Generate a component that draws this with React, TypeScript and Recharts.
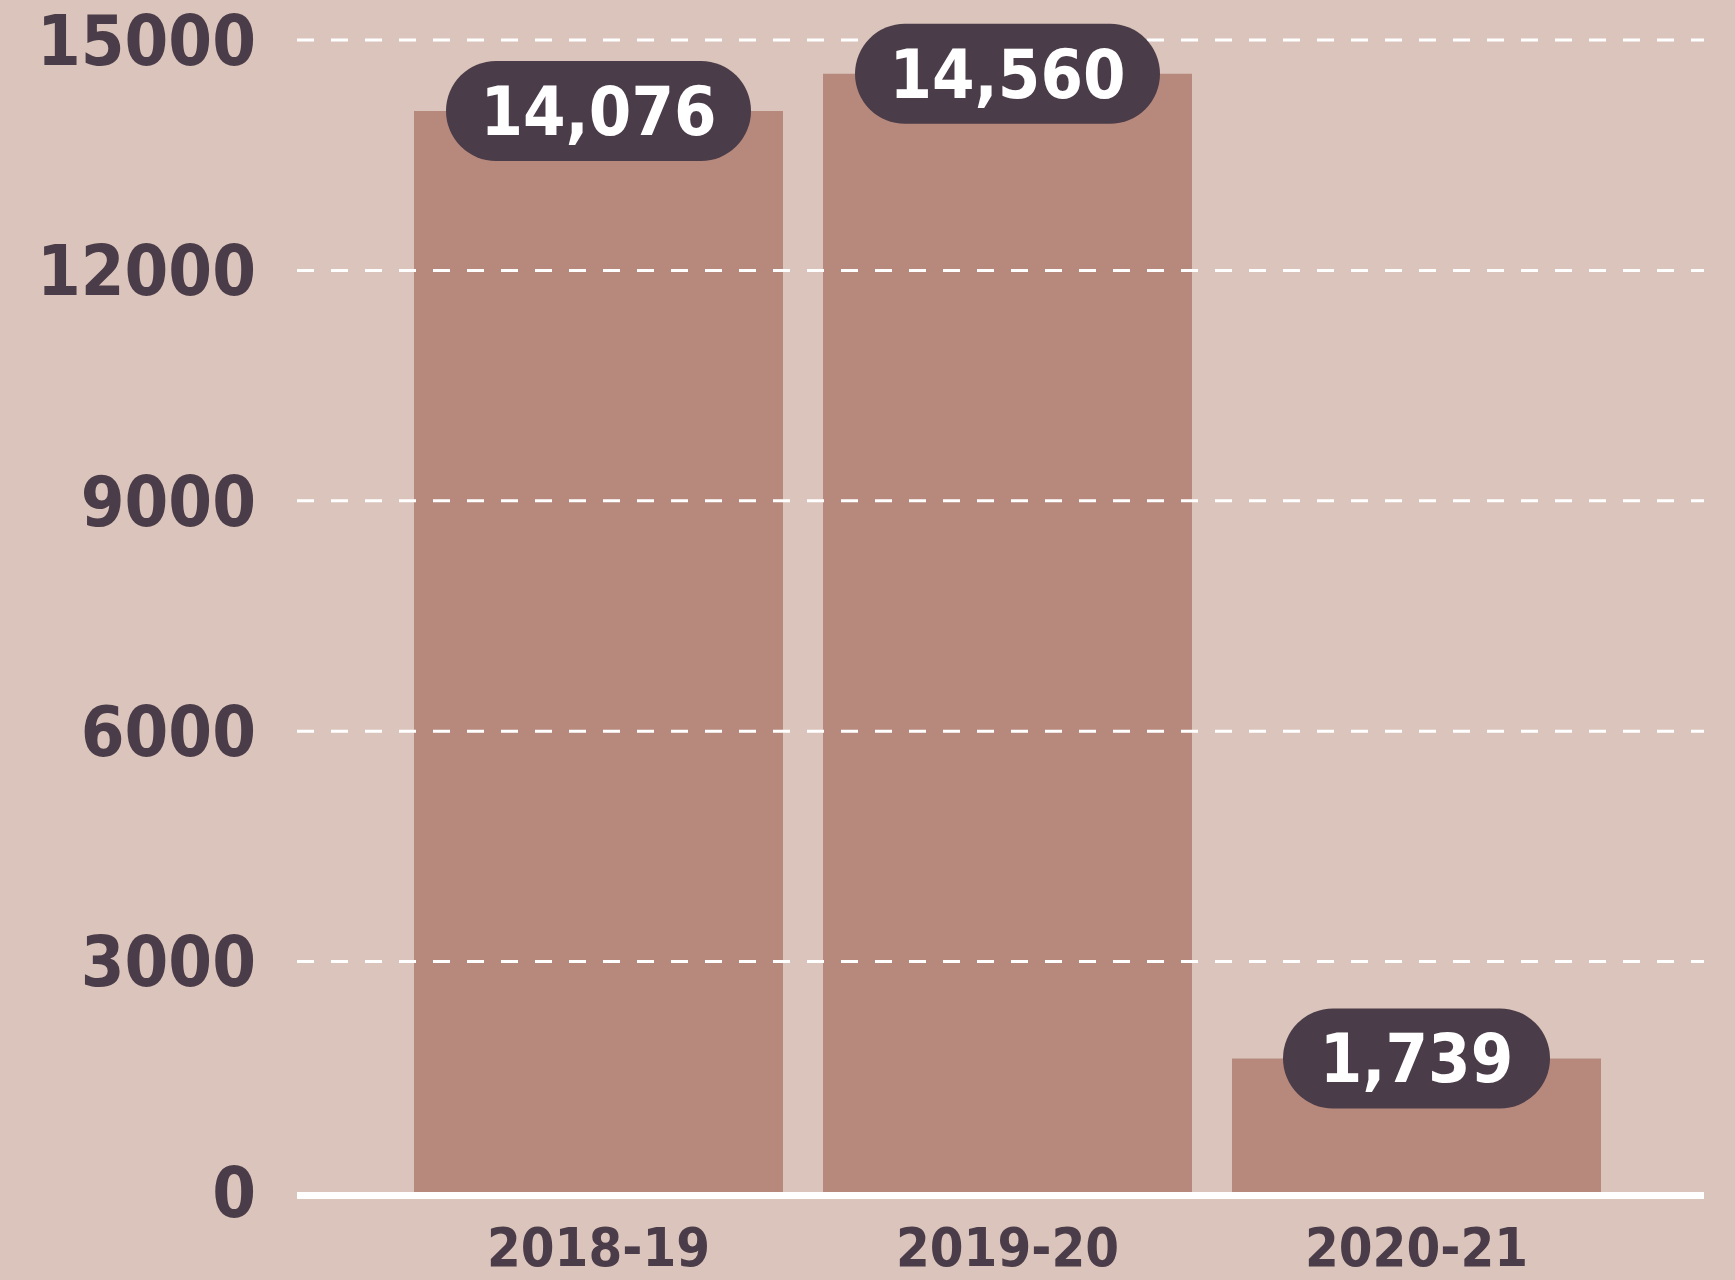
import { Bar, BarChart, CartesianGrid, LabelList, ReferenceLine, XAxis, YAxis } from "recharts";

const seasons = ["2018-19", "2019-20", "2020-21"];
const counts = [14076, 14560, 1739];
const yTicks = [0, 3000, 6000, 9000, 12000, 15000];

const BG = "#DBC4BB";
const BAR = "#B7897D";
const DARK = "#4A3C48";
const FONT = "'DejaVu Sans Condensed', 'DejaVu Sans', sans-serif";

const chartData = seasons.map((season, i) => ({ season, count: counts[i] }));

function Pill(props: any) {
  const { x, y, width, value } = props;
  const text = Number(value).toLocaleString("en-US");
  const w = 38 * text.length + 77;
  const h = 100;
  const cx = x + width / 2;
  return (
    <g>
      <rect x={cx - w / 2} y={y - h / 2} width={w} height={h} rx={h / 2} ry={h / 2} fill={DARK} />
      <text
        x={cx}
        y={y + 24}
        textAnchor="middle"
        fill="#FFFFFF"
        fontFamily={FONT}
        fontWeight="bold"
        fontSize={68}
        style={{ fontStretch: "condensed" }}
      >
        {text}
      </text>
    </g>
  );
}

function Baseline(props: any) {
  const { x1, x2, y1 } = props;
  return <line x1={x1} x2={x2} y1={y1 + 3.5} y2={y1 + 3.5} stroke="#FFFFFF" strokeWidth={7} />;
}

export default function App() {
  return (
    <div style={{ position: "absolute", left: 0, top: 0, width: 1735, height: 1280, background: BG }}>
      <BarChart
        width={1735}
        height={1280}
        data={chartData}
        margin={{ top: 40, right: 31, bottom: 0, left: 0 }}
        barCategoryGap={20}
      >
        <XAxis
          dataKey="season"
          height={88}
          axisLine={false}
          tickLine={false}
          tickSize={0}
          tickMargin={36}
          padding={{ left: 97, right: 83 }}
          tick={{ fill: DARK, fontSize: 54, fontWeight: "bold", fontFamily: FONT, style: { fontStretch: "condensed" } }}
        />
        <YAxis
          width={297}
          domain={[0, 15000]}
          ticks={yTicks}
          interval={0}
          axisLine={false}
          tickLine={false}
          tickSize={0}
          tickMargin={41}
          tick={{ fill: DARK, fontSize: 70, fontWeight: "bold", fontFamily: FONT, style: { fontStretch: "condensed" } }}
        />
        <Bar dataKey="count" fill={BAR} isAnimationActive={false}>
          <LabelList dataKey="count" content={<Pill />} />
        </Bar>
        <CartesianGrid
          vertical={false}
          horizontalValues={yTicks.filter((v) => v > 0)}
          stroke="#FFFFFF"
          strokeWidth={3}
          strokeDasharray="17 17"
          {...({ zIndex: 350 } as any)}
        />
        <ReferenceLine y={0} shape={<Baseline />} {...({ zIndex: 360 } as any)} />
      </BarChart>
    </div>
  );
}
